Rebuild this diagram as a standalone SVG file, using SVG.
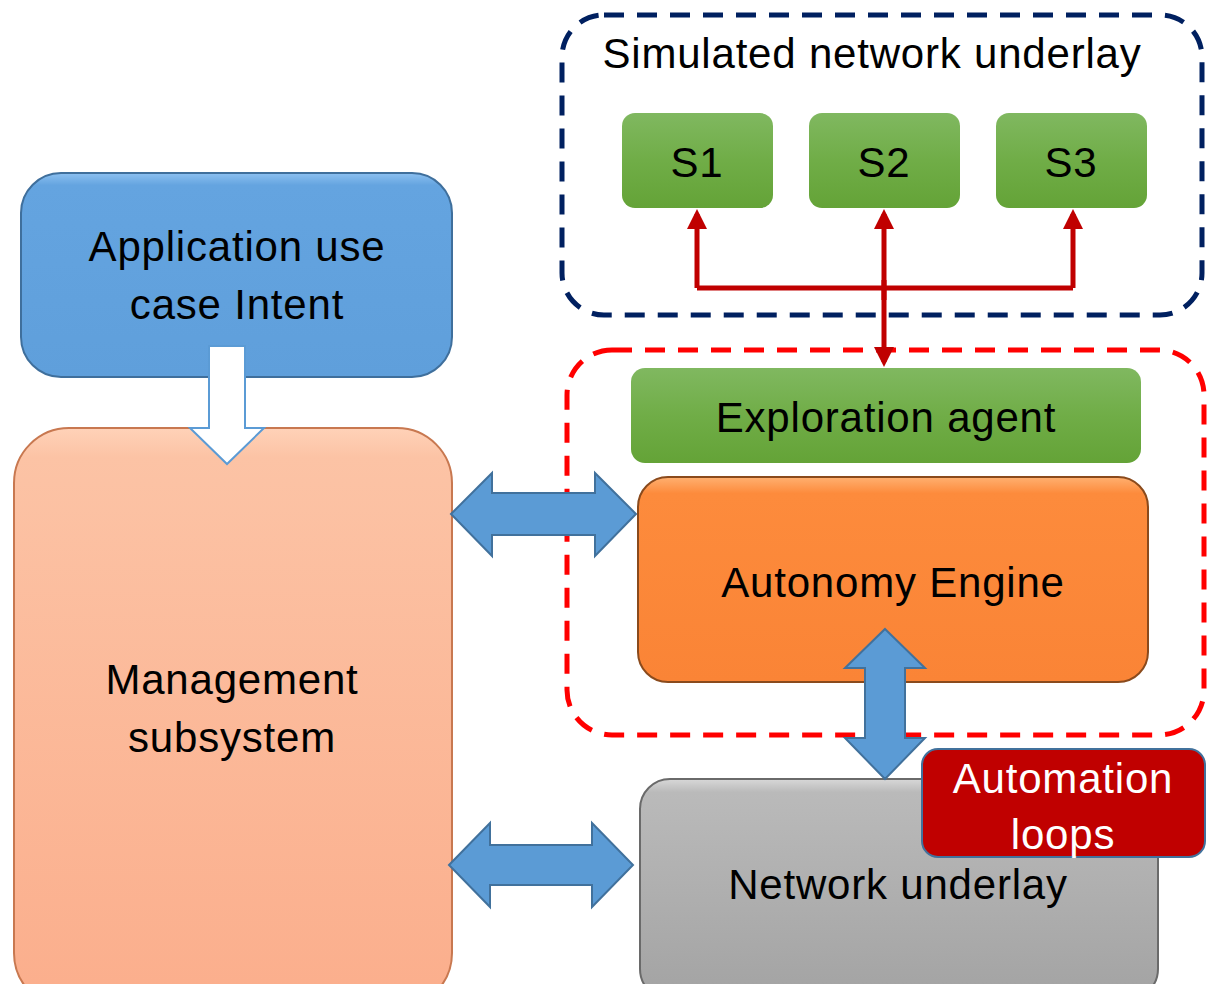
<svg xmlns="http://www.w3.org/2000/svg" width="1212" height="984" viewBox="0 0 1212 984">
<style>
.t{font-family:"Liberation Sans",Arial,sans-serif;fill:#000;text-anchor:middle;font-size:42px;letter-spacing:0.8px}
.w{fill:#fff}
.darr{fill:#5b9bd5;stroke:#41719c;stroke-width:2}
.red{stroke:#c00000;stroke-width:5;fill:none}
</style>
<defs>
<linearGradient id="gG" x1="0" y1="0" x2="0" y2="1"><stop offset="0" stop-color="#80b860"/><stop offset="0.5" stop-color="#70ad47"/><stop offset="1" stop-color="#64a337"/></linearGradient>
<linearGradient id="gB" x1="0" y1="0" x2="0" y2="1"><stop offset="0" stop-color="#8cc0f0"/><stop offset="0.06" stop-color="#64a4e0"/><stop offset="1" stop-color="#5f9fdb"/></linearGradient>
<linearGradient id="gP" x1="0" y1="0" x2="0" y2="1"><stop offset="0" stop-color="#ffd2b8"/><stop offset="0.05" stop-color="#fcc3a5"/><stop offset="1" stop-color="#fbae8c"/></linearGradient>
<linearGradient id="gO" x1="0" y1="0" x2="0" y2="1"><stop offset="0" stop-color="#ffb070"/><stop offset="0.08" stop-color="#fd8b3c"/><stop offset="1" stop-color="#fa8436"/></linearGradient>
<linearGradient id="gS" x1="0" y1="0" x2="0" y2="1"><stop offset="0" stop-color="#d8d8d8"/><stop offset="0.06" stop-color="#bababa"/><stop offset="1" stop-color="#a3a3a3"/></linearGradient>
<marker id="ah" markerWidth="4" markerHeight="4" refX="3" refY="2" orient="auto" markerUnits="strokeWidth"><path d="M0,0 L4,2 L0,4 z" fill="#c00000"/></marker>
</defs>

<g id="sim-group">
<rect x="562" y="15" width="640" height="300" rx="42" fill="none" stroke="#002060" stroke-width="5" stroke-dasharray="20 13"/>
<text class="t" x="872" y="68">Simulated network underlay</text>
</g>
<g id="s1"><rect x="622" y="113" width="151" height="95" rx="13" fill="url(#gG)"/><text class="t" x="697" y="177">S1</text></g>
<g id="s2"><rect x="809" y="113" width="151" height="95" rx="13" fill="url(#gG)"/><text class="t" x="884" y="177">S2</text></g>
<g id="s3"><rect x="996" y="113" width="151" height="95" rx="13" fill="url(#gG)"/><text class="t" x="1071" y="177">S3</text></g>

<g id="autonomy-group">
<rect x="567" y="350" width="637" height="385" rx="45" fill="none" stroke="#ff0000" stroke-width="5" stroke-dasharray="20 13"/>
</g>

<g id="app-intent">
<rect x="21" y="173" width="431" height="204" rx="40" fill="url(#gB)" stroke="#3f6f9c" stroke-width="2"/>
<text class="t" x="237" y="261">Application use</text>
<text class="t" x="237" y="319">case Intent</text>
</g>

<g id="management">
<rect x="14" y="428" width="438" height="580" rx="55" fill="url(#gP)" stroke="#c87850" stroke-width="2"/>
<text class="t" x="232" y="694">Management</text>
<text class="t" x="232" y="752">subsystem</text>
</g>

<g id="exploration">
<rect x="631" y="368" width="510" height="95" rx="14" fill="url(#gG)"/>
<text class="t" x="886" y="432">Exploration agent</text>
</g>

<g id="autonomy-engine">
<rect x="638" y="477" width="510" height="205" rx="30" fill="url(#gO)" stroke="#8a4a1c" stroke-width="2"/>
<text class="t" x="893" y="597">Autonomy Engine</text>
</g>

<g id="network-underlay">
<rect x="640" y="779" width="518" height="220" rx="30" fill="url(#gS)" stroke="#6a6a6a" stroke-width="2"/>
<text class="t" x="898" y="899">Network underlay</text>
</g>

<g id="connectors">
<path d="M209,346 L245,346 L245,428 L264,428 L227,464 L190,428 L209,428 Z" fill="#fff" stroke="#5b9bd5" stroke-width="2"/>
<path class="darr" d="M451,514 L492,473 L492,493 L595,493 L595,473 L636,514 L595,556 L595,535 L492,535 L492,556 Z"/>
<path class="darr" d="M449,865 L490,823 L490,845 L592,845 L592,823 L633,865 L592,907 L592,885 L490,885 L490,907 Z"/>
<path class="darr" d="M885,629 L925,668 L905,668 L905,738 L925,738 L885,779 L845,738 L865,738 L865,668 L845,668 Z"/>
<path class="red" d="M697,288 L1073,288"/>
<path class="red" d="M697,288 L697,214" marker-end="url(#ah)"/>
<path class="red" d="M1073,288 L1073,214" marker-end="url(#ah)"/>
<path class="red" d="M884,300 L884,214" marker-end="url(#ah)"/>
<path class="red" d="M884,280 L884,362" marker-end="url(#ah)"/>
</g>

<g id="automation-loops">
<rect x="922" y="749" width="283" height="108" rx="16" fill="#c00000" stroke="#41719c" stroke-width="2"/>
<text class="t w" x="1063" y="793">Automation</text>
<text class="t w" x="1063" y="849">loops</text>
</g>
</svg>
